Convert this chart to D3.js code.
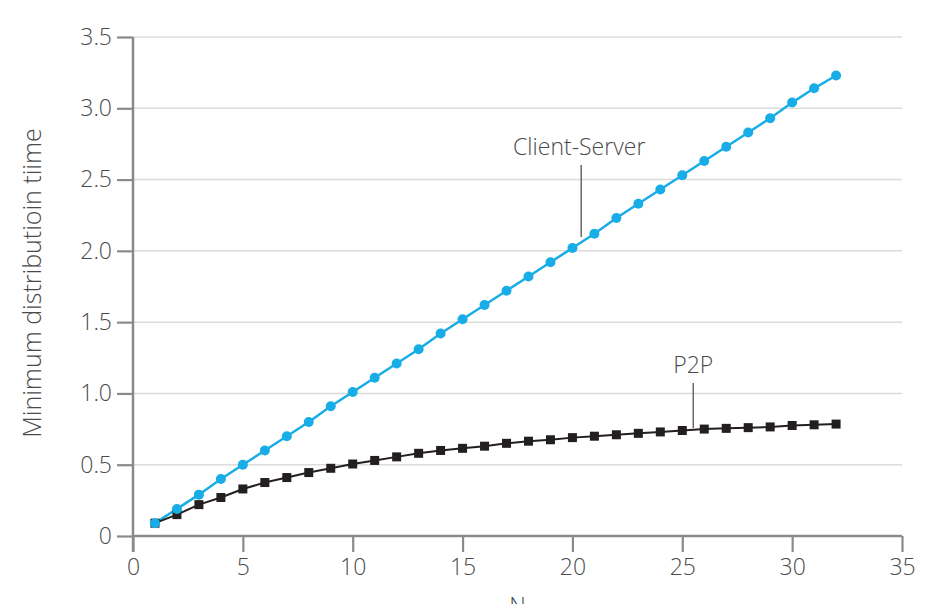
<!DOCTYPE html>
<html>
<head>
<meta charset="utf-8">
<script src="https://cdn.jsdelivr.net/npm/d3@7"></script>
<style>
  html, body { margin: 0; padding: 0; background: #fff; }
  svg { display: block; font-family: "Open Sans", "Noto Sans", sans-serif; }
</style>
</head>
<body>
<svg id="chart" width="932" height="604"></svg>
<script>
const nValues = [1,2,3,4,5,6,7,8,9,10,11,12,13,14,15,16,17,18,19,20,21,22,23,24,25,26,27,28,29,30,31,32];
const clientServer = [0.09,0.19,0.29,0.40,0.50,0.60,0.70,0.80,0.91,1.01,1.11,1.21,1.31,1.42,1.52,1.62,1.72,1.82,1.92,2.02,2.12,2.23,2.33,2.43,2.53,2.63,2.73,2.83,2.93,3.04,3.14,3.23];
const p2p = [0.09,0.15,0.22,0.27,0.33,0.375,0.41,0.445,0.475,0.505,0.53,0.555,0.58,0.60,0.615,0.63,0.65,0.665,0.675,0.69,0.70,0.71,0.72,0.73,0.74,0.75,0.755,0.76,0.765,0.775,0.78,0.785];
const xTicks = [0,5,10,15,20,25,30,35];
const yTicks = [0,0.5,1.0,1.5,2.0,2.5,3.0,3.5];
const yTickLabels = ["0","0.5","1.0","1.5","2.0","2.5","3.0","3.5"];
const seriesLabels = ["Client-Server","P2P"];
const annotN = [20.4, 25.5];
const xTitle = "N";
const yTitle = "Minimum distributioin tiime";

const svg = d3.select("#chart");
const x = d3.scaleLinear().domain([0,35]).range([133,902]);
const y = d3.scaleLinear().domain([0,3.5]).range([536,37]);

const blue = "#18ade6";
const black = "#231f20";
const axisColor = "#8a8a8a";
const textColor = "#4a4a4a";
const fontW = 300;

// gridlines
svg.append("g").selectAll("line").data(yTicks.filter(d => d > 0)).join("line")
  .attr("x1", x(0)).attr("x2", x(35))
  .attr("y1", d => y(d)).attr("y2", d => y(d))
  .attr("stroke", "#dcdcdc").attr("stroke-width", 1.5);

// y axis
const yAxis = svg.append("g").attr("transform", `translate(${x(0)},0)`)
  .call(d3.axisLeft(y).tickValues(yTicks).tickFormat((d,i) => yTickLabels[i]).tickSize(16).tickPadding(5));
// x axis
const xAxis = svg.append("g").attr("transform", `translate(0,${y(0)})`)
  .call(d3.axisBottom(x).tickValues(xTicks).tickFormat(d3.format("d")).tickSize(16).tickPadding(7));

[yAxis, xAxis].forEach(g => {
  g.select(".domain").attr("stroke", axisColor).attr("stroke-width", 2.5);
  g.selectAll(".tick line").attr("stroke", axisColor).attr("stroke-width", 2.2);
  g.selectAll(".tick text").attr("fill", textColor).attr("font-size", 23)
    .attr("font-weight", fontW).attr("font-family", "\"Open Sans\", sans-serif");
});
yAxis.select(".domain").attr("d", `M0,${y(3.5)}V${y(0)+16}`);
xAxis.select(".domain").attr("d", `M${x(0)},0H${x(35)}`);

// axis titles
svg.append("text").attr("x", (x(0)+x(35))/2).attr("y", 614)
  .attr("text-anchor", "middle").attr("fill", textColor).attr("font-weight", fontW).attr("font-size", 23).text(xTitle);
svg.append("text").attr("transform", `translate(41,283) rotate(-90)`)
  .attr("text-anchor", "middle").attr("fill", textColor).attr("font-weight", fontW).attr("font-size", 25).text(yTitle);

// lines
const lineGen = arr => d3.line().x((d,i) => x(nValues[i])).y(d => y(d))(arr);
svg.append("path").attr("d", lineGen(clientServer)).attr("fill", "none").attr("stroke", blue).attr("stroke-width", 2.5);
svg.append("path").attr("d", lineGen(p2p)).attr("fill", "none").attr("stroke", black).attr("stroke-width", 2);

// markers
svg.append("g").selectAll("rect").data(p2p).join("rect")
  .attr("x", (d,i) => x(nValues[i]) - 4.5).attr("y", d => y(d) - 4.5)
  .attr("width", 9).attr("height", 9).attr("fill", black);
svg.append("g").selectAll("circle").data(clientServer).join("circle")
  .attr("cx", (d,i) => x(nValues[i])).attr("cy", d => y(d)).attr("r", 5).attr("fill", blue);

// annotations
const annot = svg.append("g");
annot.append("line").attr("x1", x(annotN[0])).attr("x2", x(annotN[0]))
  .attr("y1", 165).attr("y2", 237).attr("stroke", "#666").attr("stroke-width", 1.5);
annot.append("text").attr("x", x(annotN[0]) - 2).attr("y", 155).attr("text-anchor", "middle")
  .attr("fill", textColor).attr("font-weight", fontW).attr("font-size", 23).text(seriesLabels[0]);
annot.append("line").attr("x1", x(annotN[1])).attr("x2", x(annotN[1]))
  .attr("y1", 383).attr("y2", 428).attr("stroke", "#666").attr("stroke-width", 1.5);
annot.append("text").attr("x", x(annotN[1])).attr("y", 373).attr("text-anchor", "middle")
  .attr("fill", textColor).attr("font-weight", fontW).attr("font-size", 23).text(seriesLabels[1]);
</script>
</body>
</html>
